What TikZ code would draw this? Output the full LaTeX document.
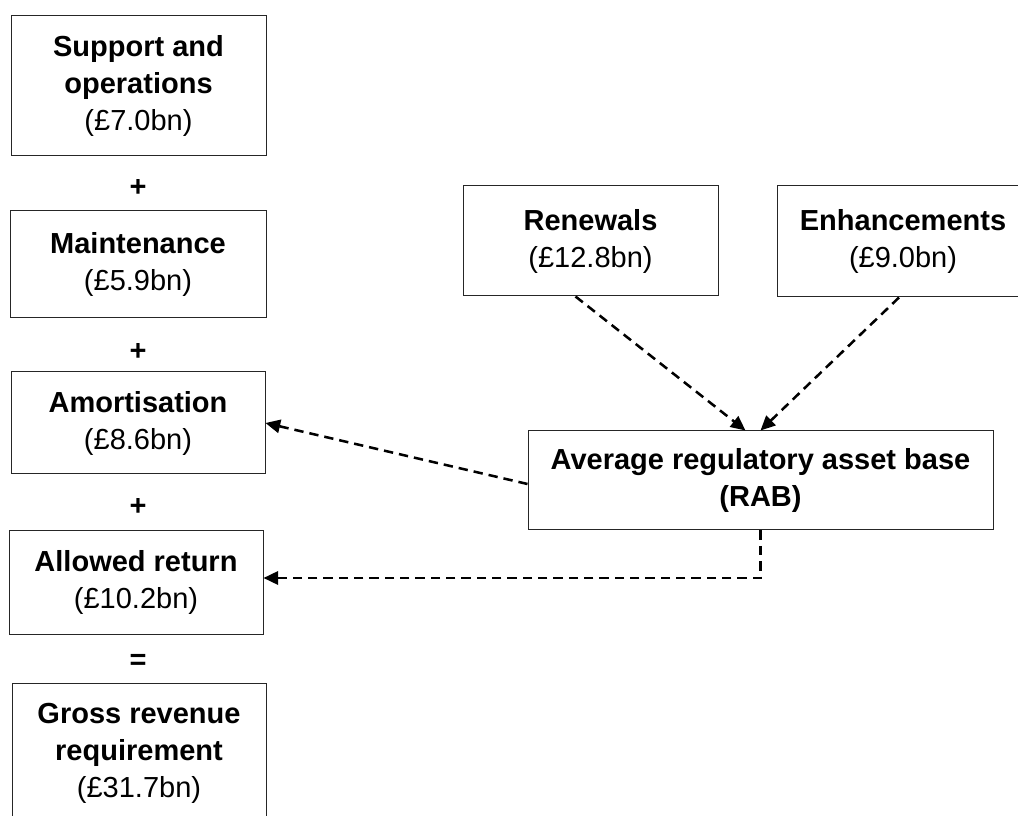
\documentclass[tikz,border=0pt]{standalone}
\usepackage{fontspec}
\setmainfont{Liberation Sans}
\usetikzlibrary{arrows.meta,calc}
\begin{document}
\begin{tikzpicture}[x=0.75pt,y=-0.75pt,
  box/.style={draw=black!85, line width=0.75pt, rectangle, align=center, inner sep=0pt,
    font=\fontsize{21.75}{27.75}\selectfont},
  sign/.style={font=\fontsize{21.75}{27.75}\selectfont\bfseries, inner sep=0pt},
  link/.style={line width=1.9pt, dash pattern=on 7pt off 4.5pt,
    -{Triangle[length=11pt,width=10pt]}}]
\useasboundingbox (0,0) rectangle (1018,816);
\clip (0,0) rectangle (1018,816);

\node[box, minimum width=191.25pt, minimum height=105pt] (sup) at (138.5,86)
  {\textbf{Support and}\\\textbf{operations}\\(£7.0bn)};
\node[sign] (p1) at (138,188) {+};
\node[box, minimum width=192pt, minimum height=80.25pt] (mai) at (138,264.5)
  {\textbf{Maintenance}\\(£5.9bn)};
\node[sign] (p2) at (138,352) {+};
\node[box, minimum width=190.5pt, minimum height=76.5pt] (amo) at (138,423)
  {\textbf{Amortisation}\\(£8.6bn)};
\node[sign] (p3) at (138,507) {+};
\node[box, minimum width=190.5pt, minimum height=77.25pt] (all) at (136,582.5)
  {\textbf{Allowed return}\\(£10.2bn)};
\node[sign] (eq) at (138,662) {=};
\node[box, minimum width=190.5pt, minimum height=105pt] (gro) at (139,753)
  {\textbf{Gross revenue}\\\textbf{requirement}\\(£31.7bn)};

\node[box, minimum width=191.25pt, minimum height=82.5pt] (ren) at (590.5,241)
  {\textbf{Renewals}\\(£12.8bn)};
\node[box, minimum width=189pt, minimum height=83.25pt] (enh) at (903,241.5)
  {\textbf{Enhancements}\\(£9.0bn)};
\node[box, minimum width=348.75pt, minimum height=74.25pt] (rab) at (760.5,480.5)
  {\textbf{Average regulatory asset base}\\\textbf{(RAB)}};

\draw[link] ($(ren.south)+(-15,0)$) -- ($(rab.north)+(-15,0)$);
\draw[link] ($(enh.south)+(-4,0)$) -- (rab.north);
\draw[link] ($(rab.west)+(0,3.5)$) -- (amo.east);
\draw[link] (rab.south) |- ($(all.east)+(0,-4.5)$);
\end{tikzpicture}
\end{document}
